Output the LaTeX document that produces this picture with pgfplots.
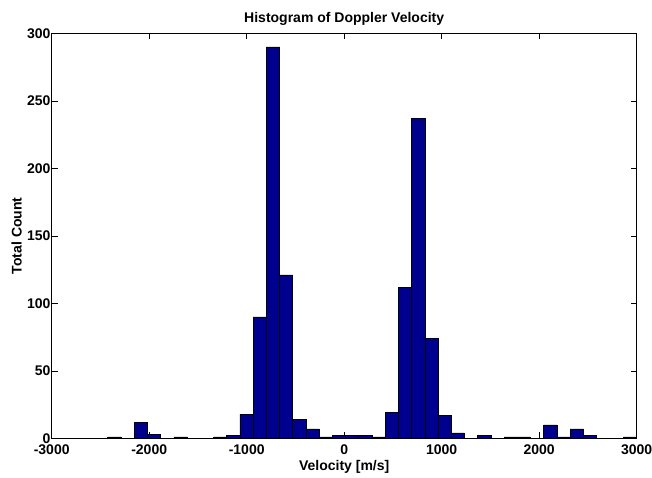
\documentclass[border=0pt]{standalone}
\usepackage{fontspec}
\setmainfont{Liberation Sans}
\usepackage{pgfplots}
\pgfplotsset{compat=1.18}
\definecolor{barblue}{RGB}{0,0,143}
\begin{document}
\begin{tikzpicture}
\path[use as bounding box] (-51.7pt,-38.7pt) rectangle (600.3pt,438.3pt);
\begin{axis}[
  at={(0pt,0pt)}, anchor=south west,
  scale only axis, width=585pt, height=405pt,
  xmin=-3000, xmax=3000, ymin=0, ymax=300,
  xtick={-3000,-2000,...,3000}, ytick={0,50,...,300},
  tick align=inside, major tick length=5.85pt,
  xtick pos=both, ytick pos=both,
  scaled ticks=false,
  /pgf/number format/1000 sep={},
  /pgf/number format/assume math mode=true,
  tick label style={font=\bfseries\fontsize{14}{16}\selectfont},
  xticklabel style={inner sep=0pt, anchor=north, yshift=-6.5pt},
  yticklabel style={inner sep=1pt},
  title={Histogram of Doppler Velocity},
  title style={font=\bfseries\fontsize{14}{16}\selectfont, inner sep=2pt},
  xlabel={Velocity [m/s]},
  ylabel={Total Count},
  label style={font=\bfseries\fontsize{14}{16}\selectfont},
  xlabel style={inner sep=0pt, at={(axis description cs:0.5,0)}, anchor=north, yshift=-22pt},
  ylabel style={inner sep=0pt, at={(axis description cs:0,0.5)}, anchor=south, yshift=29.7pt},
  axis line style={line width=0.8pt},
  every tick/.style={line width=0.6pt, black},
]
\addplot[ybar interval, fill=barblue, draw=black, line width=0.6pt] coordinates {
(-2425,1) (-2289.5,0) (-2154,12) (-2018.5,3) (-1883,0) (-1747.5,1) (-1612,0) (-1476.5,0)
(-1341,1) (-1205.5,2) (-1070,18) (-934.5,90) (-799,290) (-663.5,121) (-528,14) (-392.5,7)
(-257,1) (-121.5,2) (14,2) (149.5,2) (285,1) (420.5,19) (556,112) (691.5,237)
(827,74) (962.5,17) (1098,4) (1233.5,0) (1369,2) (1504.5,0) (1640,1) (1775.5,1)
(1911,0) (2046.5,10) (2182,1) (2317.5,7) (2453,2) (2588.5,0) (2724,0) (2859.5,1)
(2995,1)
};
\end{axis}
\end{tikzpicture}
\end{document}
